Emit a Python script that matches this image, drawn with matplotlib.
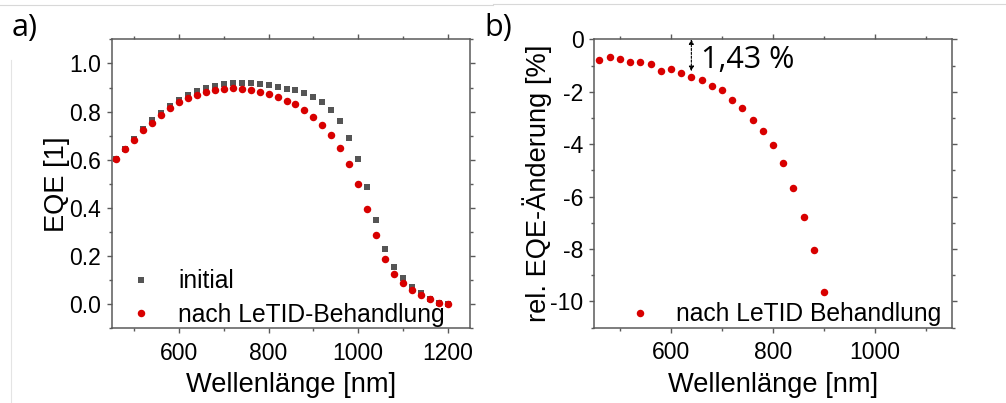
import numpy as np
import matplotlib
matplotlib.use("Agg")
import matplotlib.pyplot as plt
from matplotlib.ticker import MultipleLocator, FormatStrFormatter
from matplotlib.lines import Line2D

# Wavelength grids [nm]
wl_eqe = np.arange(460, 1201, 20)
wl_rel = np.arange(460, 901, 20)

# EQE before and after LeTID treatment
eqe_initial = [0.603, 0.646, 0.686, 0.728, 0.763, 0.795, 0.824, 0.848, 0.868, 0.886,
               0.899, 0.907, 0.913, 0.917, 0.917, 0.917, 0.914, 0.910, 0.903, 0.896,
               0.888, 0.877, 0.861, 0.839, 0.807, 0.760, 0.692, 0.602, 0.485, 0.349,
               0.227, 0.155, 0.107, 0.072, 0.044, 0.021, 0.005, 0.001]
eqe_letid = [0.601, 0.644, 0.683, 0.722, 0.753, 0.785, 0.813, 0.838, 0.857, 0.871,
             0.882, 0.890, 0.895, 0.897, 0.896, 0.889, 0.882, 0.872, 0.861, 0.846,
             0.830, 0.806, 0.778, 0.745, 0.702, 0.647, 0.580, 0.499, 0.396, 0.285,
             0.186, 0.125, 0.086, 0.058, 0.036, 0.020, 0.004, 0.001]

# Relative EQE change [%]
rel_change = [-0.79, -0.68, -0.74, -0.87, -0.87, -0.94, -1.20, -1.12, -1.30, -1.43,
              -1.56, -1.80, -1.94, -2.31, -2.63, -3.06, -3.50, -4.04, -4.73, -5.66,
              -6.78, -8.03, -9.63]

marked_wl = 640
marked_val = rel_change[list(wl_rel).index(marked_wl)]

GRAY = "#555555"
RED = "#d80000"
SPINE = "#5a5a5a"
FONT = ["Liberation Sans", "DejaVu Sans"]
FONT2 = ["Open Sans", "DejaVu Sans"]

plt.rcParams["font.family"] = FONT
plt.rcParams["axes.unicode_minus"] = False

fig = plt.figure(figsize=(10.06, 4.03), dpi=100)
ax1 = fig.add_axes([0.1113, 0.1861, 0.3559, 0.716])
ax2 = fig.add_axes([0.5908, 0.1868, 0.3553, 0.7157])


def style(ax):
    for s in ax.spines.values():
        s.set_color(SPINE)
        s.set_linewidth(1.1)
    ax.tick_params(which="both", direction="out", top=True, right=True,
                   labeltop=False, labelright=False, color=SPINE, width=1.0)
    ax.tick_params(which="major", length=3.8, labelsize=16.5)
    ax.tick_params(which="minor", length=2.2)
    ax.tick_params(axis="x", which="major", pad=6)
    ax.tick_params(axis="y", which="major", pad=4)


# a) EQE spectra
ax1.plot(wl_eqe, eqe_initial, "s", color=GRAY, ms=4.8, mew=0, label="initial", zorder=2)
ax1.plot(wl_eqe, eqe_letid, "o", color=RED, ms=5.4, mew=0, label="nach LeTID-Behandlung", zorder=3)
ax1.set_xlim(450, 1250)
ax1.set_ylim(-0.1, 1.1)
ax1.xaxis.set_major_locator(MultipleLocator(200))
ax1.xaxis.set_minor_locator(MultipleLocator(100))
ax1.yaxis.set_major_locator(MultipleLocator(0.2))
ax1.yaxis.set_minor_locator(MultipleLocator(0.1))
ax1.yaxis.set_major_formatter(FormatStrFormatter("%.1f"))
style(ax1)
ax1.set_xlabel("Wellenlänge [nm]", fontsize=19.6)
ax1.set_ylabel("EQE [1]", fontsize=19.6)
ax1.xaxis.set_label_coords(0.5, -0.152)
ax1.yaxis.set_label_coords(-0.118, 0.5)
ax1.legend(loc="lower left", bbox_to_anchor=(0.0, -0.055), frameon=False, fontsize=17.7,
           handlelength=1.0, handletextpad=1.0, borderaxespad=0.3, labelspacing=0.38,
           markerscale=1.0)

# b) relative EQE change
ax2.plot(wl_rel, rel_change, "o", color=RED, ms=5.4, mew=0, label="nach LeTID Behandlung")
ax2.set_xlim(450, 1150)
ax2.set_ylim(-11, 0)
ax2.xaxis.set_major_locator(MultipleLocator(200))
ax2.xaxis.set_minor_locator(MultipleLocator(100))
ax2.yaxis.set_major_locator(MultipleLocator(2))
ax2.yaxis.set_minor_locator(MultipleLocator(1))
style(ax2)
ax2.set_xlabel("Wellenlänge [nm]", fontsize=19.6)
ax2.set_ylabel("rel. EQE-Änderung [%]", fontsize=19.6)
ax2.xaxis.set_label_coords(0.5, -0.152)
ax2.yaxis.set_label_coords(-0.118, 0.5)
ax2.legend(loc="lower left", bbox_to_anchor=(0.045, -0.055), frameon=False, fontsize=17.7,
           handlelength=1.0, handletextpad=0.95, borderaxespad=0.3)

ax2.annotate("", xy=(marked_wl, 0), xytext=(marked_wl, marked_val),
             arrowprops=dict(arrowstyle="<|-|>", color="black", lw=0.8,
                             linestyle=(0, (2, 1.5)), mutation_scale=7,
                             shrinkA=4, shrinkB=0))
ax2.text(marked_wl + 18, -0.79, f"{abs(marked_val):.2f} %".replace(".", ","),
         fontsize=22, family=FONT2, ha="left", va="center")

fig.text(0.012, 0.93, "a)", fontsize=22, family=FONT2, ha="left", va="center")
fig.text(0.481, 0.93, "b)", fontsize=22, family=FONT2, ha="left", va="center")

# thin page frame lines
fig.add_artist(Line2D([0, 0.49], [0.988, 0.988], color="#d8d8d8", lw=0.8))
fig.add_artist(Line2D([0.49, 1.0], [0.991, 0.991], color="#d8d8d8", lw=0.8))
fig.add_artist(Line2D([0.011, 0.011], [0.0, 0.85], color="#e4e4e4", lw=0.8))

fig.savefig("out.png", dpi=100)
